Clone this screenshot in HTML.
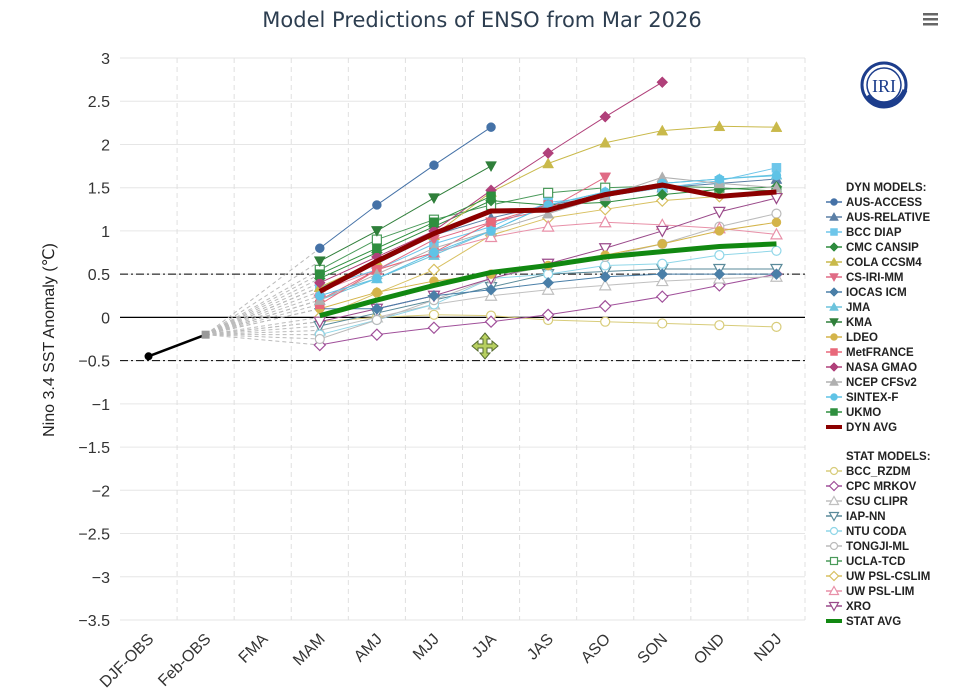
<!DOCTYPE html>
<html><head><meta charset="utf-8"><style>
body{margin:0;background:#fff;font-family:"Liberation Sans",sans-serif;}
svg text{font-family:"Liberation Sans","DejaVu Sans",sans-serif;}
</style></head><body>
<svg id="c" width="973" height="695" xmlns="http://www.w3.org/2000/svg">
<text x="482" y="27" text-anchor="middle" font-size="21" fill="#2d3e50" style="font-family:'DejaVu Sans',sans-serif">Model Predictions of ENSO from Mar 2026</text>
<g fill="#666"><rect x="923" y="13" width="15" height="2.5"/><rect x="923" y="18" width="15" height="2.5"/><rect x="923" y="23" width="15" height="2.5"/></g>
<g><circle cx="884" cy="85" r="22" fill="none" stroke="#1c3d8c" stroke-width="3"/><path d="M867 96 A22 22 0 0 0 905 90" fill="none" stroke="#1c3d8c" stroke-width="5"/><circle cx="884" cy="85" r="17" fill="none" stroke="#1c3d8c" stroke-width="1.5"/><text x="884" y="92" text-anchor="middle" style="font-family:'Liberation Serif',serif" font-size="18" fill="#1c3d8c">IRI</text></g>
<text transform="translate(54,340) rotate(-90)" text-anchor="middle" font-size="16" fill="#222">Nino 3.4 SST Anomaly (℃)</text>
<g id="grid"></g><g id="axes"></g><g id="series"></g><g id="legend"></g>
</svg>
<script>
const categories=["DJF-OBS","Feb-OBS","FMA","MAM","AMJ","MJJ","JJA","JAS","ASO","SON","OND","NDJ"];
const yTicks=[3,2.5,2,1.5,1,0.5,0,-0.5,-1,-1.5,-2,-2.5,-3,-3.5];
const obsValues=[-0.45,-0.2];
const dynNames=["AUS-ACCESS","AUS-RELATIVE","BCC DIAP","CMC CANSIP","COLA CCSM4","CS-IRI-MM","IOCAS ICM","JMA","KMA","LDEO","MetFRANCE","NASA GMAO","NCEP CFSv2","SINTEX-F","UKMO"];
const dynColors=["#4572a7","#5b7fa6","#6ec6ea","#2e8b3e","#c9b94a","#e06b85","#4a7fa8","#6cc3dc","#2f7f3a","#d4b44a","#e8687a","#b0407a","#b0b0b0","#5fc3e6","#2f8f3f"];
const dynShapes=["circle","tri","square","diamond","tri","tridown","diamond","tri","tridown","circle","square","diamond","tri","circle","square"];
const dynValues=[
[0.8,1.3,1.76,2.2],
[0.35,0.62,0.95,1.15,1.3,1.4,1.5,1.55,1.6],
[0.35,0.55,0.85,1.05,1.33,1.4,1.5,1.58,1.73],
[0.45,0.75,1.05,1.35,1.3,1.33,1.42,1.48,1.51],
[0.35,0.65,0.95,1.45,1.78,2.02,2.16,2.21,2.2],
[0.2,0.55,0.9,1.1,1.25,1.62],
[0.1,0.1,0.25,0.32,0.4,0.47,0.5,0.5,0.5],
[0.2,0.45,0.72,1.0,1.3,1.45,1.55,1.6,1.65],
[0.65,1.0,1.38,1.75],
[0.1,0.29,0.42,0.5,0.6,0.72,0.85,1.0,1.1],
[0.15,0.55,0.75,1.1,1.3],
[0.4,0.7,1.0,1.47,1.9,2.32,2.72],
[0.2,0.5,0.8,1.0,1.2,1.4,1.62,1.55,1.5],
[0.25,0.45,0.75,1.0,1.3,1.45,1.55,1.6,1.64],
[0.5,0.8,1.1,1.4]];
const dynAvg=[0.3,0.65,0.97,1.23,1.24,1.42,1.53,1.4,1.45];
const statNames=["BCC_RZDM","CPC MRKOV","CSU CLIPR","IAP-NN","NTU CODA","TONGJI-ML","UCLA-TCD","UW PSL-CSLIM","UW PSL-LIM","XRO"];
const statColors=["#d8cc7a","#a0509a","#c0c0c0","#5a8a9a","#8fd6e8","#bbbbbb","#4a9a5a","#d8c060","#e890a8","#9a4a8a"];
const statShapes=["circle","diamond","tri","tridown","circle","circle","square","diamond","tri","tridown"];
const statValues=[
[-0.05,0.0,0.03,0.02,-0.03,-0.05,-0.07,-0.09,-0.11],
[-0.32,-0.2,-0.12,-0.05,0.03,0.13,0.24,0.37,0.5],
[-0.15,0.0,0.15,0.25,0.32,0.37,0.42,0.45,0.47],
[-0.1,0.05,0.2,0.35,0.5,0.53,0.56,0.56,0.56],
[-0.2,-0.03,0.15,0.45,0.5,0.6,0.62,0.72,0.77],
[-0.25,-0.03,0.2,0.45,0.6,0.7,0.85,1.05,1.2],
[0.55,0.9,1.13,1.3,1.44,1.5,1.52,1.5,1.46],
[0.0,0.28,0.55,0.95,1.15,1.25,1.35,1.4,1.42],
[0.3,0.55,0.75,0.93,1.05,1.1,1.07,1.03,0.96],
[-0.05,0.1,0.25,0.45,0.62,0.8,1.0,1.22,1.38]];
const statAvg=[0.02,0.2,0.37,0.52,0.6,0.7,0.76,0.82,0.85];

const NS="http://www.w3.org/2000/svg";
const L=120,R=805,T=58,B=620,YMAX=3,YMIN=-3.5;
const xs=i=>L+(R-L)/categories.length*(i+0.5);
const ys=v=>T+(YMAX-v)/(YMAX-YMIN)*(B-T);
function mk(tag,attrs,parent){const e=document.createElementNS(NS,tag);for(const k in attrs)e.setAttribute(k,attrs[k]);parent.appendChild(e);return e;}
const grid=document.getElementById('grid'),axes=document.getElementById('axes'),ser=document.getElementById('series'),leg=document.getElementById('legend');
yTicks.forEach(v=>{
 const l=mk('line',{x1:L,x2:R,y1:ys(v),y2:ys(v),stroke:'#e6e6e6'},grid);
 
 
 const t=mk('text',{x:110,y:ys(v)+6,'text-anchor':'end','font-size':16,fill:'#333'},axes);
 t.textContent=String(v).replace('-','−');
 
 
});
categories.forEach((c,i)=>{
 const gx=L+(R-L)/categories.length*(i+1);
 const l=mk('line',{x1:gx,x2:gx,y1:T,y2:B,stroke:'#e0e0e0','stroke-dasharray':'5,4'},grid);
 
 
 const t=mk('text',{x:xs(i)+6,y:640,'text-anchor':'end','font-size':16,fill:'#333',transform:`rotate(-45 ${xs(i)+6} 640)`},axes);
 t.textContent=c;
 
 
});
mk('line',{x1:L,x2:R,y1:ys(0),y2:ys(0),stroke:'#000','stroke-width':1.2},grid);
[0.5,-0.5].forEach(v=>mk('line',{x1:L,x2:R,y1:ys(v),y2:ys(v),stroke:'#000','stroke-dasharray':'8,3,2,3'},grid));

function marker(shape,x,y,col,filled,parent,s){
 s=s||4.5;const f=filled?col:'#fff';let e;
 if(shape==='circle')e=mk('circle',{cx:x,cy:y,r:s},parent);
 else if(shape==='square')e=mk('rect',{x:x-s,y:y-s,width:2*s,height:2*s},parent);
 else if(shape==='diamond')e=mk('path',{d:`M${x} ${y-s-1}L${x+s+1} ${y}L${x} ${y+s+1}L${x-s-1} ${y}Z`},parent);
 else if(shape==='tri')e=mk('path',{d:`M${x} ${y-s-1}L${x+s+1} ${y+s}L${x-s-1} ${y+s}Z`},parent);
 else e=mk('path',{d:`M${x} ${y+s+1}L${x+s+1} ${y-s}L${x-s-1} ${y-s}Z`},parent);
 e.setAttribute('fill',f);e.setAttribute('stroke',col);e.setAttribute('stroke-width',filled?0.5:1.2);
 return e;
}
const allStarts=dynValues.map(a=>a[0]).concat(statValues.map(a=>a[0]));
allStarts.forEach(v=>{
 const l=mk('line',{x1:xs(1),y1:ys(obsValues[1]),x2:xs(3),y2:ys(v),stroke:'#bbb','stroke-dasharray':'4,3'},ser);
 
 
});
function series(vals,col,shape,filled,name,width){
 const g=mk('g',{},ser);
 
 
 mk('polyline',{points:vals.map((v,i)=>xs(i+3)+','+ys(v)).join(' '),fill:'none',stroke:col,'stroke-width':width||1},g);
 if(shape)vals.forEach((v,i)=>marker(shape,xs(i+3),ys(v),col,filled,g));
}
statValues.forEach((v,i)=>series(v,statColors[i],statShapes[i],false,statNames[i]));
dynValues.forEach((v,i)=>series(v,dynColors[i],dynShapes[i],true,dynNames[i]));
series(dynAvg,'#8b0000',null,true,'dyn-avg',5);
series(statAvg,'#118811',null,true,'stat-avg',5);
const og=mk('g',{},ser);


mk('line',{x1:xs(0),y1:ys(obsValues[0]),x2:xs(1),y2:ys(obsValues[1]),stroke:'#000','stroke-width':2.5},og);
mk('circle',{cx:xs(0),cy:ys(obsValues[0]),r:4,fill:'#000'},og);
mk('rect',{x:xs(1)-4,y:ys(obsValues[1])-4,width:8,height:8,fill:'#999'},og);
const mv=mk('g',{transform:'translate(485,346)'},ser);


mk('path',{d:'M0 -13L5 -7L2 -7L2 -2L7 -2L7 -5L13 0L7 5L7 2L2 2L2 7L5 7L0 13L-5 7L-2 7L-2 2L-7 2L-7 5L-13 0L-7 -5L-7 -2L-2 -2L-2 -7L-5 -7Z',fill:'#b8d060',stroke:'#556b2f'},mv);
function legItem(y,label,col,shape,filled,bold,lineW){
 const g=mk('g',{},leg);
 
 
 if(col){mk('line',{x1:826,x2:842,y1:y-4,y2:y-4,stroke:col,'stroke-width':lineW||1.5},g);
  if(shape)marker(shape,834,y-4,col,filled,g,3.5);}
 const t=mk('text',{x:846,y:y,'font-size':11.5,fill:'#222','font-weight':'bold'},g);
 t.textContent=label;
}
let y=191;
legItem(y,'DYN MODELS:');
dynNames.forEach((n,i)=>{y+=15;legItem(y,n,dynColors[i],dynShapes[i],true);});
y+=15;legItem(y,'DYN AVG','#8b0000',null,true,false,4);
y=460;legItem(y,'STAT MODELS:');
statNames.forEach((n,i)=>{y+=15;legItem(y,n,statColors[i],statShapes[i],false);});
y+=15;legItem(y,'STAT AVG','#118811',null,true,false,4);
</script>
</body></html>
